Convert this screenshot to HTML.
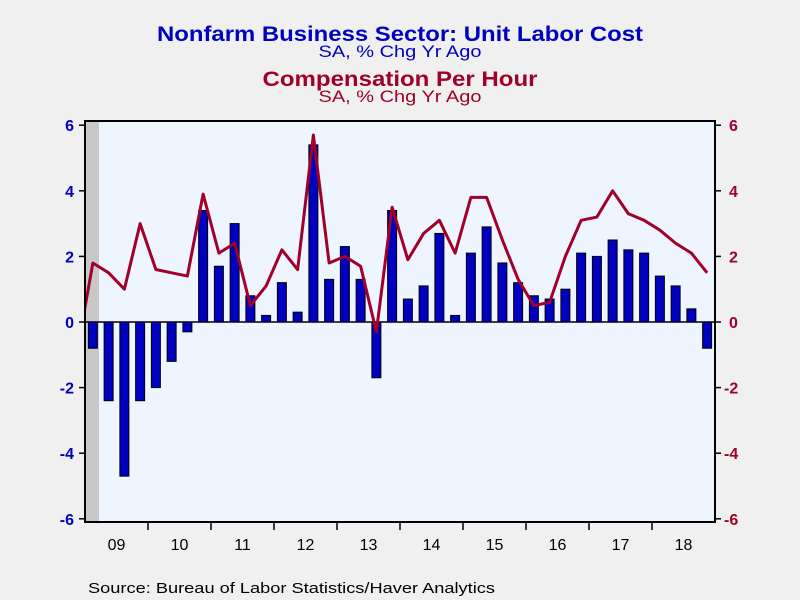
<!DOCTYPE html>
<html><head><meta charset="utf-8"><style>
html,body{margin:0;padding:0;background:#f0f0f0;}
svg{display:block;font-family:"Liberation Sans",sans-serif;}
</style></head><body>
<svg width="800" height="600" viewBox="0 0 800 600">
<rect x="0" y="0" width="800" height="600" fill="#f0f0f0"/>
<text x="400" y="41" text-anchor="middle" font-size="21" font-weight="bold" fill="#0000c0" textLength="486" lengthAdjust="spacingAndGlyphs">Nonfarm Business Sector: Unit Labor Cost</text>
<text x="400" y="57" text-anchor="middle" font-size="17" fill="#0000c0" textLength="163" lengthAdjust="spacingAndGlyphs">SA, % Chg Yr Ago</text>
<text x="400" y="86" text-anchor="middle" font-size="21" font-weight="bold" fill="#a0002a" textLength="275" lengthAdjust="spacingAndGlyphs">Compensation Per Hour</text>
<text x="400" y="102" text-anchor="middle" font-size="17" fill="#a0002a" textLength="163" lengthAdjust="spacingAndGlyphs">SA, % Chg Yr Ago</text>
<rect x="85" y="121" width="630" height="401" fill="#eef5ff"/>
<rect x="86" y="122" width="13" height="399" fill="#c8c8c8"/>
<g id="marks"></g>
<rect x="85" y="121" width="630" height="401" fill="none" stroke="#000" stroke-width="2"/>
<g id="axes"></g>
<text x="88" y="593" font-size="15" fill="#000" textLength="407" lengthAdjust="spacingAndGlyphs">Source:  Bureau of Labor Statistics/Haver Analytics</text>
</svg>
<script>
const years = ["09","10","11","12","13","14","15","16","17","18"];
const yTicks = [6,4,2,0,-2,-4,-6];
const unitLaborCost = [-0.8,-2.4,-4.7,-2.4,-2.0,-1.2,-0.3,3.4,1.7,3.0,0.8,0.2,1.2,0.3,5.4,1.3,2.3,1.3,-1.7,3.4,0.7,1.1,2.7,0.2,2.1,2.9,1.8,1.2,0.8,0.7,1.0,2.1,2.0,2.5,2.2,2.1,1.4,1.1,0.4,-0.8];
const compPrior = -0.9;
const compensation = [1.8,1.5,1.0,3.0,1.6,1.5,1.4,3.9,2.1,2.4,0.5,1.1,2.2,1.6,5.7,1.8,2.0,1.7,-0.3,3.5,1.9,2.7,3.1,2.1,3.8,3.8,2.5,1.3,0.5,0.6,2.0,3.1,3.2,4.0,3.3,3.1,2.8,2.4,2.1,1.5];
const NS="http://www.w3.org/2000/svg";
const L=85,R=715,T=121,B=522;
const qw=(R-L)/40;
const xq=i=>L+qw*(i+0.5);
const yv=v=>322-v*32.8;
const marks=document.getElementById('marks');
const axes=document.getElementById('axes');
function mk(tag,attrs,parent){const e=document.createElementNS(NS,tag);for(const k in attrs)e.setAttribute(k,attrs[k]);parent.appendChild(e);return e;}
// zero line
const z=mk('line',{x1:L,x2:R,y1:yv(0),y2:yv(0),stroke:'#000','stroke-width':1.5},marks);


unitLaborCost.forEach((v,i)=>{
  const y0=yv(0),y1=yv(v);
  const b=mk('rect',{x:xq(i)-4.5,y:Math.min(y0,y1),width:9,height:Math.abs(y1-y0),fill:'#0000c0',stroke:'#000','stroke-width':1},marks);
  
  
});
const clip=mk('clipPath',{id:'pc'},marks);
mk('rect',{x:L,y:T,width:R-L,height:B-T},clip);
let pts=[[xq(-1),yv(compPrior)]].concat(compensation.map((v,i)=>[xq(i),yv(v)]));
const pl=mk('polyline',{points:pts.map(p=>p.join(',')).join(' '),fill:'none',stroke:'#a0002a','stroke-width':3,'stroke-linejoin':'round','clip-path':'url(#pc)'},marks);


yTicks.forEach(t=>{
  const y=yv(t);
  const a=mk('line',{x1:L-6,x2:L,y1:y,y2:y,stroke:'#000','stroke-width':1.5},axes);
  
  
  const b=mk('line',{x1:R,x2:R+6,y1:y,y2:y,stroke:'#000','stroke-width':1.5},axes);
  
  
  const lt=mk('text',{x:74,y:y+6,'text-anchor':'end','font-size':16,'font-weight':'bold',fill:'#0000c0'},axes);
  lt.textContent=t;
  
  
  const rt=mk('text',{x:t<0?724:729,y:y+6,'font-size':16,'font-weight':'bold',fill:'#a0002a'},axes);
  rt.textContent=t;
  
  
});
years.forEach((yr,i)=>{
  const x=L+qw*4*i;
  if(i>0){
    const tk=mk('line',{x1:x,x2:x,y1:B,y2:B+8,stroke:'#000','stroke-width':1.5},axes);
    
    
  }
  const lb=mk('text',{x:x+qw*2,y:B+28,'text-anchor':'middle','font-size':16,fill:'#000'},axes);
  lb.textContent=yr;
  
  
});
</script>
</body></html>
